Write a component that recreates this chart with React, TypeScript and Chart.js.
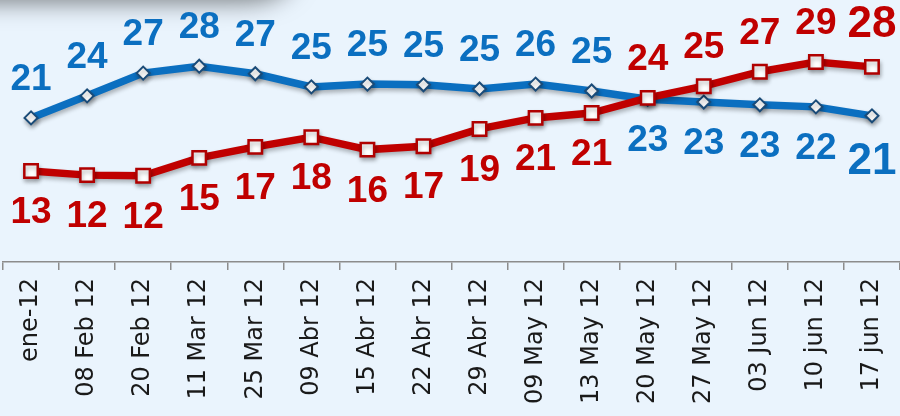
import React, { useEffect, useRef } from 'react';
import { Chart, registerables } from 'chart.js';

Chart.register(...registerables);

const categories = [
  'ene-12', '08 Feb 12', '20 Feb 12', '11 Mar 12', '25 Mar 12', '09 Abr 12',
  '15 Abr 12', '22 Abr 12', '29 Abr 12', '09 May 12', '13 May 12', '20 May 12',
  '27 May 12', '03 Jun 12', '10 jun 12', '17 jun 12',
];

const blueValues = [20.9, 24.1, 27.4, 28.4, 27.3, 25.4, 25.8, 25.7, 25.1, 25.8, 24.8, 23.6, 23.2, 22.8, 22.5, 21.2];
const blueLabels = [21, 24, 27, 28, 27, 25, 25, 25, 25, 26, 25, 23, 23, 23, 22, 21];

const redValues = [13.2, 12.6, 12.5, 15.1, 16.7, 18.1, 16.3, 16.8, 19.3, 20.9, 21.6, 23.8, 25.5, 27.6, 29.0, 28.3];
const redLabels = [13, 12, 12, 15, 17, 18, 16, 17, 19, 21, 21, 24, 25, 27, 29, 28];

// index from which the labels swap sides (lines cross)
const swapIndex = 11;

const BLUE = '#0B6FC0';
const RED = '#C00000';
const BG = '#EAF4FD';

const bgPlugin = {
  id: 'bgPlugin',
  beforeDraw(chart: any) {
    const { ctx, width, height } = chart;
    ctx.save();
    ctx.fillStyle = BG;
    ctx.fillRect(0, 0, width, height);
    // soft shadow of a shape above the crop, top-left
    ctx.shadowColor = 'rgba(0,0,0,0.5)';
    ctx.shadowBlur = 24;
    ctx.shadowOffsetX = 0;
    ctx.shadowOffsetY = 5;
    ctx.fillStyle = '#cfd6de';
    ctx.beginPath();
    ctx.moveTo(-60, -200);
    ctx.lineTo(240, -200);
    ctx.quadraticCurveTo(295, -200, 295, -40);
    ctx.quadraticCurveTo(295, -3, 240, -3);
    ctx.lineTo(-60, -3);
    ctx.closePath();
    ctx.fill();
    ctx.restore();
  },
};

const shadowPlugin = {
  id: 'shadowPlugin',
  beforeDatasetDraw(chart: any) {
    const ctx = chart.ctx;
    ctx.save();
    ctx.shadowColor = 'rgba(0,0,0,0.28)';
    ctx.shadowBlur = 4;
    ctx.shadowOffsetX = 1;
    ctx.shadowOffsetY = 3;
  },
  afterDatasetDraw(chart: any) {
    chart.ctx.restore();
  },
};

const labelPlugin = {
  id: 'labelPlugin',
  afterDatasetsDraw(chart: any) {
    const ctx = chart.ctx;
    chart.data.datasets.forEach((ds: any, di: number) => {
      const meta = chart.getDatasetMeta(di);
      const labels: number[] = ds.pointLabels;
      meta.data.forEach((pt: any, i: number) => {
        const last = i === meta.data.length - 1;
        const above = ds.aboveFirst ? i < swapIndex : i >= swapIndex;
        const size = last ? 44 : 37;
        const off = above ? (last ? 42 : 38) : (last ? 46 : 42);
        ctx.save();
        ctx.font = `bold ${size}px "Liberation Sans", Arial, sans-serif`;
        ctx.fillStyle = ds.borderColor;
        ctx.textAlign = 'center';
        ctx.textBaseline = 'middle';
        ctx.fillText(String(labels[i]), pt.x, above ? pt.y - off : pt.y + off);
        ctx.restore();
      });
    });
  },
};

export default function App() {
  const ref = useRef<HTMLCanvasElement | null>(null);

  useEffect(() => {
    if (!ref.current) return;
    const chart = new Chart(ref.current, {
      type: 'line',
      data: {
        labels: categories,
        datasets: [
          {
            data: redValues,
            pointLabels: redLabels,
            aboveFirst: false,
            borderColor: RED,
            borderWidth: 7.5,
            tension: 0,
            pointStyle: 'rect',
            pointRadius: 9.5,
            pointBorderWidth: 2.5,
            pointBorderColor: '#B00000',
            pointBackgroundColor: '#FFFFFF',
          } as any,
          {
            data: blueValues,
            pointLabels: blueLabels,
            aboveFirst: true,
            borderColor: BLUE,
            borderWidth: 7.5,
            tension: 0,
            pointStyle: 'rectRot',
            pointRadius: 6.5,
            pointBorderWidth: 2,
            pointBorderColor: '#1A4B78',
            pointBackgroundColor: '#FFFFFF',
          } as any,
        ],
      },
      options: {
        animation: false,
        responsive: false,
        maintainAspectRatio: false,
        layout: { autoPadding: false, padding: { left: 3, right: 0, top: 0, bottom: 0 } },
        plugins: {
          legend: { display: false },
          tooltip: { enabled: false },
        },
        scales: {
          y: {
            display: false,
            min: 0,
            max: 38,
          },
          x: {
            offset: true,
            afterFit: (s: any) => {
              s.height = 154;
              s.paddingLeft = 0;
              s.paddingRight = 0;
            },
            grid: {
              offset: true,
              drawOnChartArea: false,
              drawTicks: true,
              tickLength: 8,
              color: '#8C8C8C',
              lineWidth: 1.5,
            },
            border: { display: true, color: '#8C8C8C', width: 1.5 },
            ticks: {
              autoSkip: false,
              minRotation: 90,
              maxRotation: 90,
              padding: 8,
              color: '#1A1A1A',
              font: { family: '"DejaVu Sans", sans-serif', size: 24 },
            },
          },
        },
      },
      plugins: [bgPlugin, shadowPlugin, labelPlugin],
    });
    return () => chart.destroy();
  }, []);

  return (
    <div
      style={{
        position: 'fixed',
        left: 0,
        top: 0,
        width: 900,
        height: 416,
        overflow: 'hidden',
        background: BG,
      }}
    >
      <canvas ref={ref} width={900} height={416} style={{ width: 900, height: 416, display: 'block' }} />
    </div>
  );
}
